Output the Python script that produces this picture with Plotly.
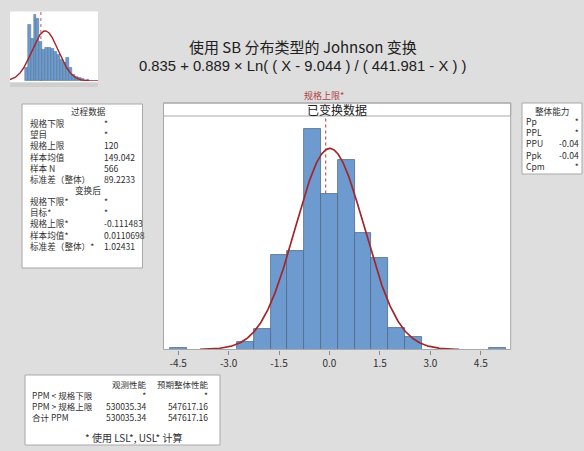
import numpy as np
import plotly.graph_objects as go

# ---- data -------------------------------------------------------------
# Transformed data histogram (bin midpoints, counts)
trans_mid = [-4.5, -2.5, -2.0, -1.5, -1.0, -0.5, 0.0, 0.5, 1.0, 1.5, 2.0, 2.5, 5.0]
trans_cnt = [1, 4, 11, 52, 54, 121, 85, 104, 64, 50, 12, 7, 1]
trans_bin = 0.5

# Original data histogram (bin midpoints, counts)
orig_mid = [20, 40, 60, 80, 100, 120, 140, 160, 180, 200, 220, 240, 260,
            280, 300, 320, 340, 360, 380, 400, 420, 440]
orig_cnt = [13, 57, 43, 67, 63, 40, 32, 34, 34, 33, 30, 27, 22,
            18, 24, 13, 6, 4, 3, 2, 0, 1]
orig_bin = 20

N = 566
usl_orig = 120
usl_trans = -0.111483
mean_orig, sd_orig = 149.042, 89.2233
mean_trans, sd_trans = 0.0110698, 1.02431

x_ticks = [-4.5, -3.0, -1.5, 0.0, 1.5, 3.0, 4.5]

title_main = "使用 SB 分布类型的 Johnson 变换"
title_formula = "0.835 + 0.889 × Ln( ( X - 9.044 ) / ( 441.981 - X ) )"

process_labels = ["规格下限", "望目", "规格上限", "样本均值", "样本 N", "标准差（整体）"]
process_values = ["*", "*", "120", "149.042", "566", "89.2233"]
trans_labels = ["规格下限*", "目标*", "规格上限*", "样本均值*", "标准差（整体）*"]
trans_values = ["*", "*", "-0.111483", "0.0110698", "1.02431"]
cap_labels = ["Pp", "PPL", "PPU", "Ppk", "Cpm"]
cap_values = ["*", "*", "-0.04", "-0.04", "*"]
ppm_labels = ["PPM < 规格下限", "PPM > 规格上限", "合计 PPM"]
ppm_observed = ["*", "530035.34", "530035.34"]
ppm_expected = ["*", "547617.16", "547617.16"]

# ---- helpers ------------------------------------------------------------
W, H = 584, 451
FONT = "Noto Sans CJK SC"
LATIN = "Liberation Sans"
TXT = "#303030"
BAR = "#6e9bcf"
BAR_EDGE = "#4f6a88"
CURVE = "#a3262b"
BORDER = "#a8a8a8"


def fx(p):
    return p / W


def fy(p):
    return 1 - p / H


def normal_curve(mean, sd, scale, lo, hi, n=400):
    xs = np.linspace(lo, hi, n)
    ys = scale * np.exp(-0.5 * ((xs - mean) / sd) ** 2) / (sd * np.sqrt(2 * np.pi))
    return xs, ys


fig = go.Figure()

# main histogram of transformed data
fig.add_bar(x=trans_mid, y=trans_cnt, width=trans_bin,
            marker=dict(color=BAR, line=dict(color=BAR_EDGE, width=0.8)),
            xaxis="x", yaxis="y", hoverinfo="skip")
cx, cy = normal_curve(mean_trans, sd_trans, N * trans_bin, -3.85, 3.85)
fig.add_scatter(x=cx, y=cy, mode="lines", line=dict(color=CURVE, width=1.7),
                xaxis="x", yaxis="y", hoverinfo="skip")

# small histogram of the original data
fig.add_bar(x=orig_mid, y=orig_cnt, width=orig_bin,
            marker=dict(color=BAR, line=dict(color=BAR_EDGE, width=0.5)),
            xaxis="x2", yaxis="y2", hoverinfo="skip")
ox, oy = normal_curve(mean_orig, sd_orig, N * orig_bin, -90, 508)
fig.add_scatter(x=ox, y=oy, mode="lines", line=dict(color=CURVE, width=1.4),
                xaxis="x2", yaxis="y2", hoverinfo="skip")

shapes = []
# thumbnail backdrop
shapes.append(dict(type="rect", xref="paper", yref="paper", layer="below",
                   x0=fx(10), x1=fx(98), y0=fy(87), y1=fy(82.3),
                   fillcolor="#cfcfcf", line=dict(width=0)))
shapes.append(dict(type="rect", xref="paper", yref="paper", layer="below",
                   x0=fx(10), x1=fx(98), y0=fy(82.3), y1=fy(11.7),
                   fillcolor="white", line=dict(width=0)))
shapes.append(dict(type="line", xref="x2", yref="paper", layer="below",
                   x0=usl_orig, x1=usl_orig, y0=fy(81), y1=fy(10),
                   line=dict(color="#d05050", width=1, dash="dot")))

# main frame and title strip
shapes.append(dict(type="rect", xref="paper", yref="paper", layer="below",
                   x0=fx(163.5), x1=fx(510.7), y0=fy(116), y1=fy(103),
                   fillcolor="white", line=dict(color=BORDER, width=1)))
shapes.append(dict(type="rect", xref="paper", yref="paper", layer="above",
                   x0=fx(163.5), x1=fx(510.7), y0=fy(349.5), y1=fy(103),
                   line=dict(color=BORDER, width=1)))
shapes.append(dict(type="line", xref="x", yref="paper", layer="below",
                   x0=usl_trans, x1=usl_trans, y0=fy(349.5), y1=fy(117),
                   line=dict(color="#c84040", width=1.1, dash="dot")))

# side panels
for (x0, y0, x1, y1) in [(22, 104, 142.5, 268), (522, 103, 582, 174),
                         (25, 375, 220, 445)]:
    shapes.append(dict(type="rect", xref="paper", yref="paper", layer="below",
                       x0=fx(x0), x1=fx(x1), y0=fy(y1), y1=fy(y0),
                       fillcolor="white", line=dict(color=BORDER, width=1)))

ann = []


def text(x, y, s, size=9, anchor="left", color=TXT, family=FONT):
    ann.append(dict(x=fx(x), y=fy(y), xref="paper", yref="paper", text=s,
                    showarrow=False, xanchor=anchor, yanchor="middle",
                    align=anchor if anchor != "center" else "center",
                    borderpad=0,
                    font=dict(family=family, size=size, color=color)))


def column(x, y_first, lines, size, anchor="left"):
    # one multi-line block; plotly spaces lines at 1.3 em
    step = 1.3 * size
    y_mid = y_first + step * (len(lines) - 1) / 2
    text(x, y_mid, "<br>".join(lines), size=size, anchor=anchor)


# title
text(302.5, 46.6, title_main, size=15, anchor="center", color="#202020")
text(302.5, 66.2, title_formula, size=14.8, anchor="center", color="#202020",
     family=LATIN)
text(337, 109.5, "已变换数据", size=12, anchor="center", color="#202020")
text(323.5, 95.5, "规格上限*", size=9, anchor="center", color="#b04040")

PS = 8.6
# process data panel
text(88, 110.5, "过程数据", size=PS, anchor="center")
column(29, 122.8, process_labels, PS)
column(103, 122.8, process_values, PS)
text(88, 189.8, "变换后", size=PS, anchor="center")
column(29, 201.5, trans_labels, PS)
column(103, 201.5, trans_values, PS)

# capability panel
text(552, 110.5, "整体能力", size=PS, anchor="center")
column(525, 121.5, cap_labels, PS)
column(580, 121.5, cap_values, PS, anchor="right")

# PPM panel
PP = 8.5
column(31, 394.5, ppm_labels, PP)
column(147.5, 383.5, ["观测性能"] + ppm_observed, PP, anchor="right")
column(210, 383.5, ["预期整体性能"] + ppm_expected, PP, anchor="right")
text(133, 437.5, "* 使用 LSL*, USL* 计算", size=10, anchor="center")

fig.update_layout(
    width=W, height=H,
    margin=dict(l=0, r=0, t=0, b=0),
    paper_bgcolor="#dedede",
    plot_bgcolor="white",
    showlegend=False,
    bargap=0,
    shapes=shapes,
    annotations=ann,
    xaxis=dict(domain=[fx(164), fx(510.7)], range=[-4.92, 5.39],
               tickvals=x_ticks, ticktext=[f"{v:.1f}" for v in x_ticks],
               ticks="outside", ticklen=4, tickcolor="#8a8a8a",
               showgrid=False, zeroline=False, showline=False,
               tickfont=dict(family=FONT, size=10, color=TXT), fixedrange=True),
    yaxis=dict(domain=[fy(349.5), fy(116)], range=[0, 128], visible=False,
               fixedrange=True),
    xaxis2=dict(domain=[fx(10), fx(98)], range=[-90, 508], visible=False,
                anchor="y2", fixedrange=True),
    yaxis2=dict(domain=[fy(81), fy(11.7)], range=[0, 70], visible=False,
                anchor="x2", fixedrange=True),
)

fig.write_html("out.html")
